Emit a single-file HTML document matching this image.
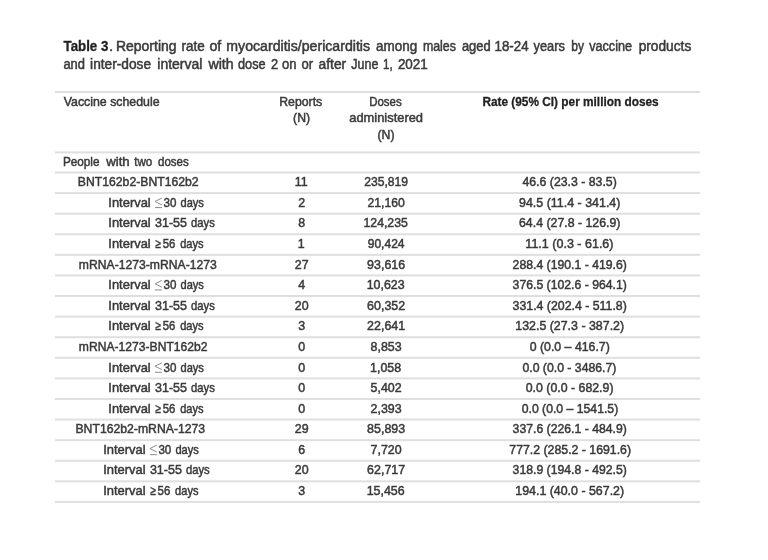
<!DOCTYPE html>
<html><head><meta charset="utf-8"><style>
html,body{margin:0;padding:0;background:#fff;}
body{width:768px;height:560px;overflow:hidden;}
svg{display:block;font-family:"Liberation Sans",sans-serif;filter:grayscale(1);}
text{stroke-width:0.5px;}
text[font-weight=bold]{stroke-width:0.3px;}
</style></head><body>
<svg width="768" height="560" viewBox="0 0 768 560">
<rect x="55" y="91.00" width="645" height="2" fill="#dfdfdf"/>
<rect x="55" y="151.40" width="645" height="2" fill="#dfdfdf"/>
<rect x="55" y="171.49" width="645" height="2" fill="#dfdfdf"/>
<rect x="55" y="192.08" width="645" height="2" fill="#dfdfdf"/>
<rect x="55" y="212.67" width="645" height="2" fill="#dfdfdf"/>
<rect x="55" y="233.26" width="645" height="2" fill="#dfdfdf"/>
<rect x="55" y="253.85" width="645" height="2" fill="#dfdfdf"/>
<rect x="55" y="274.44" width="645" height="2" fill="#dfdfdf"/>
<rect x="55" y="295.03" width="645" height="2" fill="#dfdfdf"/>
<rect x="55" y="315.62" width="645" height="2" fill="#dfdfdf"/>
<rect x="55" y="336.21" width="645" height="2" fill="#dfdfdf"/>
<rect x="55" y="356.80" width="645" height="2" fill="#dfdfdf"/>
<rect x="55" y="377.39" width="645" height="2" fill="#dfdfdf"/>
<rect x="55" y="397.98" width="645" height="2" fill="#dfdfdf"/>
<rect x="55" y="418.57" width="645" height="2" fill="#dfdfdf"/>
<rect x="55" y="439.16" width="645" height="2" fill="#dfdfdf"/>
<rect x="55" y="459.75" width="645" height="2" fill="#dfdfdf"/>
<rect x="55" y="480.34" width="645" height="2" fill="#dfdfdf"/>
<rect x="55" y="500.93" width="645" height="2" fill="#dfdfdf"/>
<path d="M161.90 198.08 L155.00 201.48 L161.90 204.88 M155.00 207.58 L161.90 207.58" fill="none" stroke="#8c8c8c" stroke-width="1.0"/>
<path d="M161.90 280.44 L155.00 283.84 L161.90 287.24 M155.00 289.94 L161.90 289.94" fill="none" stroke="#8c8c8c" stroke-width="1.0"/>
<path d="M161.90 362.80 L155.00 366.20 L161.90 369.60 M155.00 372.30 L161.90 372.30" fill="none" stroke="#8c8c8c" stroke-width="1.0"/>
<path d="M156.80 445.16 L149.90 448.56 L156.80 451.96 M149.90 454.66 L156.80 454.66" fill="none" stroke="#8c8c8c" stroke-width="1.0"/>
<text x="63.50" y="50.70" font-size="13.8" font-weight="bold" fill="#222222" stroke="#222222" textLength="44.83" lengthAdjust="spacingAndGlyphs">Table 3</text>
<text x="109.20" y="50.70" font-size="13.8" fill="#3a3a3a" stroke="#3a3a3a" textLength="3.83" lengthAdjust="spacingAndGlyphs">.</text>
<text x="115.99" y="50.70" font-size="13.8" fill="#3a3a3a" stroke="#3a3a3a" textLength="60.54" lengthAdjust="spacingAndGlyphs">Reporting</text>
<text x="181.50" y="50.70" font-size="13.8" fill="#3a3a3a" stroke="#3a3a3a" textLength="23.23" lengthAdjust="spacingAndGlyphs">rate</text>
<text x="209.40" y="50.70" font-size="13.8" fill="#3a3a3a" stroke="#3a3a3a" textLength="11.78" lengthAdjust="spacingAndGlyphs">of</text>
<text x="226.35" y="50.70" font-size="13.8" fill="#3a3a3a" stroke="#3a3a3a" textLength="143.70" lengthAdjust="spacingAndGlyphs">myocarditis/pericarditis</text>
<text x="376.00" y="50.70" font-size="13.8" fill="#3a3a3a" stroke="#3a3a3a" textLength="41.21" lengthAdjust="spacingAndGlyphs">among</text>
<text x="422.90" y="50.70" font-size="13.8" fill="#3a3a3a" stroke="#3a3a3a" textLength="33.06" lengthAdjust="spacingAndGlyphs">males</text>
<text x="461.90" y="50.70" font-size="13.8" fill="#3a3a3a" stroke="#3a3a3a" textLength="28.78" lengthAdjust="spacingAndGlyphs">aged</text>
<text x="494.54" y="50.70" font-size="13.8" fill="#3a3a3a" stroke="#3a3a3a" textLength="34.00" lengthAdjust="spacingAndGlyphs">18-24</text>
<text x="533.50" y="50.70" font-size="13.8" fill="#3a3a3a" stroke="#3a3a3a" textLength="31.36" lengthAdjust="spacingAndGlyphs">years</text>
<text x="571.35" y="50.70" font-size="13.8" fill="#3a3a3a" stroke="#3a3a3a" textLength="12.71" lengthAdjust="spacingAndGlyphs">by</text>
<text x="589.20" y="50.70" font-size="13.8" fill="#3a3a3a" stroke="#3a3a3a" textLength="42.85" lengthAdjust="spacingAndGlyphs">vaccine</text>
<text x="638.70" y="50.70" font-size="13.8" fill="#3a3a3a" stroke="#3a3a3a" textLength="52.55" lengthAdjust="spacingAndGlyphs">products</text>
<text x="63.40" y="69.20" font-size="13.8" fill="#3a3a3a" stroke="#3a3a3a" textLength="21.58" lengthAdjust="spacingAndGlyphs">and</text>
<text x="90.10" y="69.20" font-size="13.8" fill="#3a3a3a" stroke="#3a3a3a" textLength="61.02" lengthAdjust="spacingAndGlyphs">inter-dose</text>
<text x="157.30" y="69.20" font-size="13.8" fill="#3a3a3a" stroke="#3a3a3a" textLength="45.12" lengthAdjust="spacingAndGlyphs">interval</text>
<text x="208.43" y="69.20" font-size="13.8" fill="#3a3a3a" stroke="#3a3a3a" textLength="25.21" lengthAdjust="spacingAndGlyphs">with</text>
<text x="238.00" y="69.20" font-size="13.8" fill="#3a3a3a" stroke="#3a3a3a" textLength="27.60" lengthAdjust="spacingAndGlyphs">dose</text>
<text x="271.00" y="69.20" font-size="13.8" fill="#3a3a3a" stroke="#3a3a3a" textLength="7.18" lengthAdjust="spacingAndGlyphs">2</text>
<text x="282.00" y="69.20" font-size="13.8" fill="#3a3a3a" stroke="#3a3a3a" textLength="14.49" lengthAdjust="spacingAndGlyphs">on</text>
<text x="301.50" y="69.20" font-size="13.8" fill="#3a3a3a" stroke="#3a3a3a" textLength="11.57" lengthAdjust="spacingAndGlyphs">or</text>
<text x="318.50" y="69.20" font-size="13.8" fill="#3a3a3a" stroke="#3a3a3a" textLength="27.74" lengthAdjust="spacingAndGlyphs">after</text>
<text x="351.35" y="69.20" font-size="13.8" fill="#3a3a3a" stroke="#3a3a3a" textLength="27.00" lengthAdjust="spacingAndGlyphs">June</text>
<text x="383.01" y="69.20" font-size="13.8" fill="#3a3a3a" stroke="#3a3a3a" textLength="9.64" lengthAdjust="spacingAndGlyphs">1,</text>
<text x="397.90" y="69.20" font-size="13.8" fill="#3a3a3a" stroke="#3a3a3a" textLength="29.91" lengthAdjust="spacingAndGlyphs">2021</text>
<text x="63.70" y="105.60" font-size="13.1" fill="#3a3a3a" stroke="#3a3a3a" textLength="95.92" lengthAdjust="spacingAndGlyphs">Vaccine schedule</text>
<text x="279.24" y="105.60" font-size="13.1" fill="#3a3a3a" stroke="#3a3a3a" textLength="42.96" lengthAdjust="spacingAndGlyphs">Reports</text>
<text x="293.07" y="122.40" font-size="13.1" fill="#3a3a3a" stroke="#3a3a3a" textLength="16.99" lengthAdjust="spacingAndGlyphs">(N)</text>
<text x="369.30" y="105.60" font-size="13.1" fill="#3a3a3a" stroke="#3a3a3a" textLength="32.33" lengthAdjust="spacingAndGlyphs">Doses</text>
<text x="349.27" y="122.40" font-size="13.1" fill="#3a3a3a" stroke="#3a3a3a" textLength="73.73" lengthAdjust="spacingAndGlyphs">administered</text>
<text x="377.48" y="139.00" font-size="13.1" fill="#3a3a3a" stroke="#3a3a3a" textLength="16.99" lengthAdjust="spacingAndGlyphs">(N)</text>
<text x="482.40" y="105.60" font-size="13.1" font-weight="bold" fill="#222222" stroke="#222222" textLength="176.31" lengthAdjust="spacingAndGlyphs">Rate (95% CI) per million doses</text>
<text x="62.90" y="165.60" font-size="13.1" fill="#3a3a3a" stroke="#3a3a3a" textLength="36.60" lengthAdjust="spacingAndGlyphs">People</text>
<text x="106.21" y="165.60" font-size="13.1" fill="#3a3a3a" stroke="#3a3a3a" textLength="23.43" lengthAdjust="spacingAndGlyphs">with</text>
<text x="134.30" y="165.60" font-size="13.1" fill="#3a3a3a" stroke="#3a3a3a" textLength="18.00" lengthAdjust="spacingAndGlyphs">two</text>
<text x="158.00" y="165.60" font-size="13.1" fill="#3a3a3a" stroke="#3a3a3a" textLength="30.65" lengthAdjust="spacingAndGlyphs">doses</text>
<text x="77.87" y="186.19" font-size="13.1" fill="#3a3a3a" stroke="#3a3a3a" textLength="120.74" lengthAdjust="spacingAndGlyphs">BNT162b2-BNT162b2</text>
<text x="294.70" y="186.19" font-size="13.1" fill="#3a3a3a" stroke="#3a3a3a" textLength="12.91" lengthAdjust="spacingAndGlyphs">11</text>
<text x="364.23" y="186.19" font-size="13.1" fill="#3a3a3a" stroke="#3a3a3a" textLength="43.81" lengthAdjust="spacingAndGlyphs">235,819</text>
<text x="522.43" y="186.19" font-size="13.1" fill="#3a3a3a" stroke="#3a3a3a" textLength="94.39" lengthAdjust="spacingAndGlyphs">46.6 (23.3 - 83.5)</text>
<text x="108.31" y="206.78" font-size="13.1" fill="#3a3a3a" stroke="#3a3a3a" textLength="42.45" lengthAdjust="spacingAndGlyphs">Interval</text>
<text x="163.50" y="206.78" font-size="13.1" fill="#3a3a3a" stroke="#3a3a3a" textLength="12.90" lengthAdjust="spacingAndGlyphs">30</text>
<text x="180.50" y="206.78" font-size="13.1" fill="#3a3a3a" stroke="#3a3a3a" textLength="23.37" lengthAdjust="spacingAndGlyphs">days</text>
<text x="298.18" y="206.78" font-size="13.1" fill="#3a3a3a" stroke="#3a3a3a" textLength="6.92" lengthAdjust="spacingAndGlyphs">2</text>
<text x="367.48" y="206.78" font-size="13.1" fill="#3a3a3a" stroke="#3a3a3a" textLength="37.31" lengthAdjust="spacingAndGlyphs">21,160</text>
<text x="519.02" y="206.78" font-size="13.1" fill="#3a3a3a" stroke="#3a3a3a" textLength="101.39" lengthAdjust="spacingAndGlyphs">94.5 (11.4 - 341.4)</text>
<text x="108.31" y="227.37" font-size="13.1" fill="#3a3a3a" stroke="#3a3a3a" textLength="42.45" lengthAdjust="spacingAndGlyphs">Interval</text>
<text x="155.00" y="227.37" font-size="13.1" fill="#3a3a3a" stroke="#3a3a3a" textLength="32.02" lengthAdjust="spacingAndGlyphs">31-55</text>
<text x="191.00" y="227.37" font-size="13.1" fill="#3a3a3a" stroke="#3a3a3a" textLength="23.76" lengthAdjust="spacingAndGlyphs">days</text>
<text x="298.18" y="227.37" font-size="13.1" fill="#3a3a3a" stroke="#3a3a3a" textLength="6.92" lengthAdjust="spacingAndGlyphs">8</text>
<text x="363.49" y="227.37" font-size="13.1" fill="#3a3a3a" stroke="#3a3a3a" textLength="44.35" lengthAdjust="spacingAndGlyphs">124,235</text>
<text x="519.02" y="227.37" font-size="13.1" fill="#3a3a3a" stroke="#3a3a3a" textLength="101.39" lengthAdjust="spacingAndGlyphs">64.4 (27.8 - 126.9)</text>
<text x="108.31" y="247.96" font-size="13.1" fill="#3a3a3a" stroke="#3a3a3a" textLength="42.45" lengthAdjust="spacingAndGlyphs">Interval</text>
<text x="155.30" y="247.96" font-size="13.1" fill="#3a3a3a" stroke="#3a3a3a" textLength="5.49" lengthAdjust="spacingAndGlyphs">≥</text>
<text x="162.70" y="247.96" font-size="13.1" fill="#3a3a3a" stroke="#3a3a3a" textLength="12.70" lengthAdjust="spacingAndGlyphs">56</text>
<text x="180.20" y="247.96" font-size="13.1" fill="#3a3a3a" stroke="#3a3a3a" textLength="23.37" lengthAdjust="spacingAndGlyphs">days</text>
<text x="297.70" y="247.96" font-size="13.1" fill="#3a3a3a" stroke="#3a3a3a" textLength="6.92" lengthAdjust="spacingAndGlyphs">1</text>
<text x="367.68" y="247.96" font-size="13.1" fill="#3a3a3a" stroke="#3a3a3a" textLength="36.91" lengthAdjust="spacingAndGlyphs">90,424</text>
<text x="525.37" y="247.96" font-size="13.1" fill="#3a3a3a" stroke="#3a3a3a" textLength="88.15" lengthAdjust="spacingAndGlyphs">11.1 (0.3 - 61.6)</text>
<text x="78.80" y="268.55" font-size="13.1" fill="#3a3a3a" stroke="#3a3a3a" textLength="138.01" lengthAdjust="spacingAndGlyphs">mRNA-1273-mRNA-1273</text>
<text x="294.72" y="268.55" font-size="13.1" fill="#3a3a3a" stroke="#3a3a3a" textLength="13.84" lengthAdjust="spacingAndGlyphs">27</text>
<text x="367.11" y="268.55" font-size="13.1" fill="#3a3a3a" stroke="#3a3a3a" textLength="38.05" lengthAdjust="spacingAndGlyphs">93,616</text>
<text x="512.62" y="268.55" font-size="13.1" fill="#3a3a3a" stroke="#3a3a3a" textLength="114.19" lengthAdjust="spacingAndGlyphs">288.4 (190.1 - 419.6)</text>
<text x="108.31" y="289.14" font-size="13.1" fill="#3a3a3a" stroke="#3a3a3a" textLength="42.45" lengthAdjust="spacingAndGlyphs">Interval</text>
<text x="163.50" y="289.14" font-size="13.1" fill="#3a3a3a" stroke="#3a3a3a" textLength="12.90" lengthAdjust="spacingAndGlyphs">30</text>
<text x="180.50" y="289.14" font-size="13.1" fill="#3a3a3a" stroke="#3a3a3a" textLength="23.37" lengthAdjust="spacingAndGlyphs">days</text>
<text x="298.18" y="289.14" font-size="13.1" fill="#3a3a3a" stroke="#3a3a3a" textLength="6.92" lengthAdjust="spacingAndGlyphs">4</text>
<text x="366.64" y="289.14" font-size="13.1" fill="#3a3a3a" stroke="#3a3a3a" textLength="38.05" lengthAdjust="spacingAndGlyphs">10,623</text>
<text x="512.62" y="289.14" font-size="13.1" fill="#3a3a3a" stroke="#3a3a3a" textLength="114.19" lengthAdjust="spacingAndGlyphs">376.5 (102.6 - 964.1)</text>
<text x="108.31" y="309.73" font-size="13.1" fill="#3a3a3a" stroke="#3a3a3a" textLength="42.45" lengthAdjust="spacingAndGlyphs">Interval</text>
<text x="155.00" y="309.73" font-size="13.1" fill="#3a3a3a" stroke="#3a3a3a" textLength="32.02" lengthAdjust="spacingAndGlyphs">31-55</text>
<text x="191.00" y="309.73" font-size="13.1" fill="#3a3a3a" stroke="#3a3a3a" textLength="23.76" lengthAdjust="spacingAndGlyphs">days</text>
<text x="294.72" y="309.73" font-size="13.1" fill="#3a3a3a" stroke="#3a3a3a" textLength="13.84" lengthAdjust="spacingAndGlyphs">20</text>
<text x="367.11" y="309.73" font-size="13.1" fill="#3a3a3a" stroke="#3a3a3a" textLength="38.05" lengthAdjust="spacingAndGlyphs">60,352</text>
<text x="512.62" y="309.73" font-size="13.1" fill="#3a3a3a" stroke="#3a3a3a" textLength="114.19" lengthAdjust="spacingAndGlyphs">331.4 (202.4 - 511.8)</text>
<text x="108.31" y="330.32" font-size="13.1" fill="#3a3a3a" stroke="#3a3a3a" textLength="42.45" lengthAdjust="spacingAndGlyphs">Interval</text>
<text x="155.30" y="330.32" font-size="13.1" fill="#3a3a3a" stroke="#3a3a3a" textLength="5.49" lengthAdjust="spacingAndGlyphs">≥</text>
<text x="162.70" y="330.32" font-size="13.1" fill="#3a3a3a" stroke="#3a3a3a" textLength="12.70" lengthAdjust="spacingAndGlyphs">56</text>
<text x="180.20" y="330.32" font-size="13.1" fill="#3a3a3a" stroke="#3a3a3a" textLength="23.37" lengthAdjust="spacingAndGlyphs">days</text>
<text x="298.18" y="330.32" font-size="13.1" fill="#3a3a3a" stroke="#3a3a3a" textLength="6.92" lengthAdjust="spacingAndGlyphs">3</text>
<text x="367.11" y="330.32" font-size="13.1" fill="#3a3a3a" stroke="#3a3a3a" textLength="38.05" lengthAdjust="spacingAndGlyphs">22,641</text>
<text x="515.28" y="330.32" font-size="13.1" fill="#3a3a3a" stroke="#3a3a3a" textLength="108.84" lengthAdjust="spacingAndGlyphs">132.5 (27.3 - 387.2)</text>
<text x="78.80" y="350.91" font-size="13.1" fill="#3a3a3a" stroke="#3a3a3a" textLength="128.71" lengthAdjust="spacingAndGlyphs">mRNA-1273-BNT162b2</text>
<text x="298.18" y="350.91" font-size="13.1" fill="#3a3a3a" stroke="#3a3a3a" textLength="6.92" lengthAdjust="spacingAndGlyphs">0</text>
<text x="370.57" y="350.91" font-size="13.1" fill="#3a3a3a" stroke="#3a3a3a" textLength="31.13" lengthAdjust="spacingAndGlyphs">8,853</text>
<text x="529.73" y="350.91" font-size="13.1" fill="#3a3a3a" stroke="#3a3a3a" textLength="80.09" lengthAdjust="spacingAndGlyphs">0 (0.0 – 416.7)</text>
<text x="108.31" y="371.50" font-size="13.1" fill="#3a3a3a" stroke="#3a3a3a" textLength="42.45" lengthAdjust="spacingAndGlyphs">Interval</text>
<text x="163.50" y="371.50" font-size="13.1" fill="#3a3a3a" stroke="#3a3a3a" textLength="12.90" lengthAdjust="spacingAndGlyphs">30</text>
<text x="180.50" y="371.50" font-size="13.1" fill="#3a3a3a" stroke="#3a3a3a" textLength="23.37" lengthAdjust="spacingAndGlyphs">days</text>
<text x="298.18" y="371.50" font-size="13.1" fill="#3a3a3a" stroke="#3a3a3a" textLength="6.92" lengthAdjust="spacingAndGlyphs">0</text>
<text x="370.09" y="371.50" font-size="13.1" fill="#3a3a3a" stroke="#3a3a3a" textLength="31.13" lengthAdjust="spacingAndGlyphs">1,058</text>
<text x="522.43" y="371.50" font-size="13.1" fill="#3a3a3a" stroke="#3a3a3a" textLength="93.99" lengthAdjust="spacingAndGlyphs">0.0 (0.0 - 3486.7)</text>
<text x="108.31" y="392.09" font-size="13.1" fill="#3a3a3a" stroke="#3a3a3a" textLength="42.45" lengthAdjust="spacingAndGlyphs">Interval</text>
<text x="155.00" y="392.09" font-size="13.1" fill="#3a3a3a" stroke="#3a3a3a" textLength="32.02" lengthAdjust="spacingAndGlyphs">31-55</text>
<text x="191.00" y="392.09" font-size="13.1" fill="#3a3a3a" stroke="#3a3a3a" textLength="23.76" lengthAdjust="spacingAndGlyphs">days</text>
<text x="298.18" y="392.09" font-size="13.1" fill="#3a3a3a" stroke="#3a3a3a" textLength="6.92" lengthAdjust="spacingAndGlyphs">0</text>
<text x="370.57" y="392.09" font-size="13.1" fill="#3a3a3a" stroke="#3a3a3a" textLength="31.13" lengthAdjust="spacingAndGlyphs">5,402</text>
<text x="525.73" y="392.09" font-size="13.1" fill="#3a3a3a" stroke="#3a3a3a" textLength="87.79" lengthAdjust="spacingAndGlyphs">0.0 (0.0 - 682.9)</text>
<text x="108.31" y="412.68" font-size="13.1" fill="#3a3a3a" stroke="#3a3a3a" textLength="42.45" lengthAdjust="spacingAndGlyphs">Interval</text>
<text x="155.30" y="412.68" font-size="13.1" fill="#3a3a3a" stroke="#3a3a3a" textLength="5.49" lengthAdjust="spacingAndGlyphs">≥</text>
<text x="162.70" y="412.68" font-size="13.1" fill="#3a3a3a" stroke="#3a3a3a" textLength="12.70" lengthAdjust="spacingAndGlyphs">56</text>
<text x="180.20" y="412.68" font-size="13.1" fill="#3a3a3a" stroke="#3a3a3a" textLength="23.37" lengthAdjust="spacingAndGlyphs">days</text>
<text x="298.18" y="412.68" font-size="13.1" fill="#3a3a3a" stroke="#3a3a3a" textLength="6.92" lengthAdjust="spacingAndGlyphs">0</text>
<text x="370.57" y="412.68" font-size="13.1" fill="#3a3a3a" stroke="#3a3a3a" textLength="31.13" lengthAdjust="spacingAndGlyphs">2,393</text>
<text x="521.72" y="412.68" font-size="13.1" fill="#3a3a3a" stroke="#3a3a3a" textLength="96.49" lengthAdjust="spacingAndGlyphs">0.0 (0.0 – 1541.5)</text>
<text x="75.47" y="433.27" font-size="13.1" fill="#3a3a3a" stroke="#3a3a3a" textLength="129.65" lengthAdjust="spacingAndGlyphs">BNT162b2-mRNA-1273</text>
<text x="294.72" y="433.27" font-size="13.1" fill="#3a3a3a" stroke="#3a3a3a" textLength="13.84" lengthAdjust="spacingAndGlyphs">29</text>
<text x="367.11" y="433.27" font-size="13.1" fill="#3a3a3a" stroke="#3a3a3a" textLength="38.05" lengthAdjust="spacingAndGlyphs">85,893</text>
<text x="512.62" y="433.27" font-size="13.1" fill="#3a3a3a" stroke="#3a3a3a" textLength="114.19" lengthAdjust="spacingAndGlyphs">337.6 (226.1 - 484.9)</text>
<text x="103.21" y="453.86" font-size="13.1" fill="#3a3a3a" stroke="#3a3a3a" textLength="42.45" lengthAdjust="spacingAndGlyphs">Interval</text>
<text x="158.40" y="453.86" font-size="13.1" fill="#3a3a3a" stroke="#3a3a3a" textLength="12.90" lengthAdjust="spacingAndGlyphs">30</text>
<text x="175.40" y="453.86" font-size="13.1" fill="#3a3a3a" stroke="#3a3a3a" textLength="23.37" lengthAdjust="spacingAndGlyphs">days</text>
<text x="298.18" y="453.86" font-size="13.1" fill="#3a3a3a" stroke="#3a3a3a" textLength="6.92" lengthAdjust="spacingAndGlyphs">6</text>
<text x="370.57" y="453.86" font-size="13.1" fill="#3a3a3a" stroke="#3a3a3a" textLength="31.13" lengthAdjust="spacingAndGlyphs">7,720</text>
<text x="509.33" y="453.86" font-size="13.1" fill="#3a3a3a" stroke="#3a3a3a" textLength="121.69" lengthAdjust="spacingAndGlyphs">777.2 (285.2 - 1691.6)</text>
<text x="103.21" y="474.45" font-size="13.1" fill="#3a3a3a" stroke="#3a3a3a" textLength="42.45" lengthAdjust="spacingAndGlyphs">Interval</text>
<text x="149.90" y="474.45" font-size="13.1" fill="#3a3a3a" stroke="#3a3a3a" textLength="32.02" lengthAdjust="spacingAndGlyphs">31-55</text>
<text x="185.90" y="474.45" font-size="13.1" fill="#3a3a3a" stroke="#3a3a3a" textLength="23.76" lengthAdjust="spacingAndGlyphs">days</text>
<text x="294.72" y="474.45" font-size="13.1" fill="#3a3a3a" stroke="#3a3a3a" textLength="13.84" lengthAdjust="spacingAndGlyphs">20</text>
<text x="367.11" y="474.45" font-size="13.1" fill="#3a3a3a" stroke="#3a3a3a" textLength="38.05" lengthAdjust="spacingAndGlyphs">62,717</text>
<text x="512.62" y="474.45" font-size="13.1" fill="#3a3a3a" stroke="#3a3a3a" textLength="114.19" lengthAdjust="spacingAndGlyphs">318.9 (194.8 - 492.5)</text>
<text x="103.21" y="495.04" font-size="13.1" fill="#3a3a3a" stroke="#3a3a3a" textLength="42.45" lengthAdjust="spacingAndGlyphs">Interval</text>
<text x="150.20" y="495.04" font-size="13.1" fill="#3a3a3a" stroke="#3a3a3a" textLength="5.49" lengthAdjust="spacingAndGlyphs">≥</text>
<text x="157.60" y="495.04" font-size="13.1" fill="#3a3a3a" stroke="#3a3a3a" textLength="12.70" lengthAdjust="spacingAndGlyphs">56</text>
<text x="175.10" y="495.04" font-size="13.1" fill="#3a3a3a" stroke="#3a3a3a" textLength="23.37" lengthAdjust="spacingAndGlyphs">days</text>
<text x="298.18" y="495.04" font-size="13.1" fill="#3a3a3a" stroke="#3a3a3a" textLength="6.92" lengthAdjust="spacingAndGlyphs">3</text>
<text x="366.64" y="495.04" font-size="13.1" fill="#3a3a3a" stroke="#3a3a3a" textLength="38.05" lengthAdjust="spacingAndGlyphs">15,456</text>
<text x="515.28" y="495.04" font-size="13.1" fill="#3a3a3a" stroke="#3a3a3a" textLength="108.84" lengthAdjust="spacingAndGlyphs">194.1 (40.0 - 567.2)</text>
</svg>
</body></html>
